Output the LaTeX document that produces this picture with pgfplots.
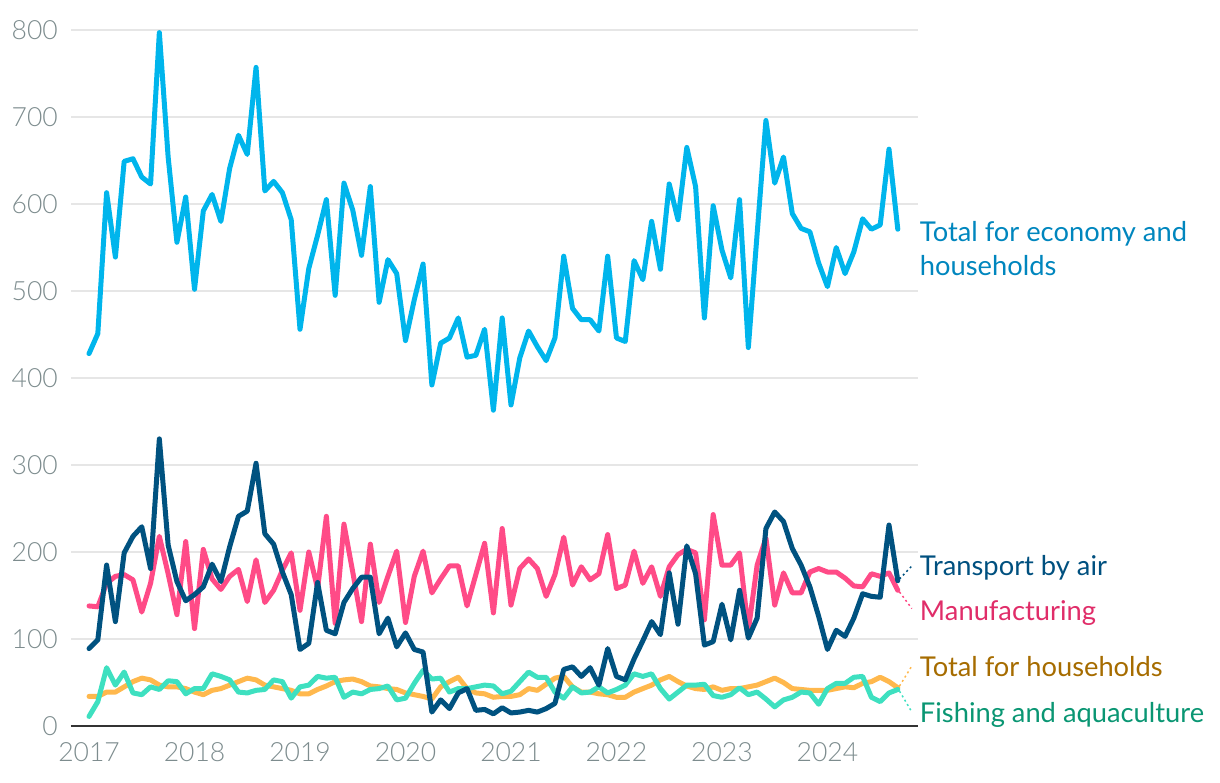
\documentclass[border=0pt]{standalone}
\usepackage{pgfplots}
\usepackage{pgfplotstable}
\pgfplotsset{compat=1.18}
\usepackage{fontspec}
\setmainfont{Lato}
\IfFontExistsTF{Lato Light}{\newfontfamily\tickfont{Lato Light}}{\newfontfamily\tickfont{Lato}}

\definecolor{econline}{RGB}{0,181,236}
\definecolor{airline}{RGB}{0,82,128}
\definecolor{manline}{RGB}{255,75,135}
\definecolor{hhline}{RGB}{255,184,77}
\definecolor{fishline}{RGB}{62,224,192}
\definecolor{econtext}{RGB}{0,134,190}
\definecolor{airtext}{RGB}{0,80,127}
\definecolor{mantext}{RGB}{224,45,105}
\definecolor{hhtext}{RGB}{166,108,0}
\definecolor{fishtext}{RGB}{10,150,115}
\definecolor{gridgray}{RGB}{230,230,230}
\definecolor{tickgray}{RGB}{125,140,142}
\definecolor{axisdark}{RGB}{51,51,51}

\pgfplotstableread{
i econ air manuf hh fish
0 428 89 138 34 11
1 451 99 137 34 28
2 613 185 164 39 67
3 539 120 172 39 47
4 649 199 174 45 62
5 652 218 168 51 38
6 631 229 131 55 36
7 623 181 164 53 45
8 797 330 218 47 42
9 654 208 175 45 52
10 556 166 128 45 51
11 608 144 212 43 37
12 502 151 112 39 43
13 592 160 203 36 43
14 611 186 169 41 60
15 580 166 157 43 57
16 641 206 172 47 53
17 679 241 180 51 39
18 657 247 143 55 38
19 757 302 191 53 41
20 615 221 142 47 42
21 626 209 156 45 53
22 613 177 179 43 51
23 582 151 199 41 32
24 456 88 133 37 45
25 526 95 200 37 47
26 564 165 158 42 57
27 605 110 241 46 55
28 495 106 118 51 56
29 624 142 232 53 33
30 593 158 177 54 39
31 541 171 120 51 37
32 620 171 209 46 42
33 487 106 142 45 43
34 536 124 172 43 46
35 520 91 201 42 30
36 443 107 119 38 32
37 490 88 172 36 49
38 531 85 201 34 64
39 392 16 153 31 54
40 440 30 169 45 55
41 446 20 184 51 39
42 469 38 184 56 43
43 424 43 138 43 43
44 426 18 174 38 45
45 456 19 210 37 47
46 363 14 130 33 46
47 469 21 227 34 37
48 369 15 139 34 40
49 423 16 181 36 51
50 454 18 192 43 62
51 436 16 181 41 56
52 420 20 149 48 56
53 446 26 174 55 39
54 540 65 217 57 32
55 480 68 162 45 45
56 467 57 183 39 38
57 467 67 168 39 39
58 454 47 175 37 45
59 540 89 220 36 38
60 446 57 158 33 42
61 442 53 162 33 47
62 535 77 201 39 60
63 513 98 164 43 57
64 580 120 183 47 60
65 525 105 149 53 43
66 623 176 183 57 31
67 582 117 197 51 39
68 665 207 203 46 47
69 620 175 199 43 47
70 469 93 122 42 48
71 598 97 243 45 35
72 547 140 185 41 33
73 515 99 185 43 36
74 605 156 199 43 44
75 435 101 110 45 36
76 566 124 185 47 39
77 696 227 216 51 31
78 624 246 139 55 22
79 654 235 176 50 30
80 589 204 153 43 33
81 572 185 153 42 39
82 568 160 177 41 38
83 532 126 181 41 25
84 505 88 177 41 43
85 550 110 177 43 49
86 520 103 170 45 49
87 545 124 161 44 56
88 583 152 160 49 57
89 571 149 175 51 33
90 576 148 172 56 28
91 663 231 176 51 38
92 571 167 156 44 42
}\datatable

\newcommand{\labfont}{\fontsize{27.3}{32}\selectfont}
\newcommand{\tkfont}{\tickfont\fontsize{26.5}{30}\selectfont}

\begin{document}
\begin{tikzpicture}
\useasboundingbox (-71pt,-56pt) rectangle (1149pt,726pt);
\begin{axis}[
  at={(0pt,0pt)}, anchor=south west,
  scale only axis, width=847pt, height=696pt,
  xmin=-2.05, xmax=94.3, ymin=0, ymax=800,
  clip=false,
  axis x line*=bottom, axis y line*=left,
  y axis line style={draw=none},
  x axis line style={line width=2pt, draw=axisdark, -},
  ytick={0,100,...,800},
  xtick={0,12,24,36,48,60,72,84},
  xticklabels={2017,2018,2019,2020,2021,2022,2023,2024},
  ymajorgrids,
  grid style={line width=2pt, draw=gridgray},
  major tick length=0pt,
  tick style={draw=none},
  /pgf/number format/assume math mode=true,
  yticklabel style={font=\tkfont, text=tickgray, anchor=east, inner sep=0pt, xshift=-13pt},
  xticklabel style={font=\tkfont, text=tickgray, anchor=north, inner sep=0pt, yshift=-16pt},
  every axis plot/.append style={line width=5pt, line join=round, line cap=round, mark=none},
]
\addplot[econline] table[x=i, y=econ] {\datatable};
\addplot[hhline] table[x=i, y=hh] {\datatable};
\addplot[fishline] table[x=i, y=fish] {\datatable};
\addplot[manline] table[x=i, y=manuf] {\datatable};
\addplot[airline] table[x=i, y=air] {\datatable};

\draw[airline, line width=1.5pt, dash pattern=on 2pt off 3pt] (axis cs:92.2,169) -- (axis cs:93.6,184);
\draw[manline, line width=1.5pt, dash pattern=on 2pt off 3pt] (axis cs:92.2,154) -- (axis cs:93.6,135);
\draw[hhline, line width=1.5pt, dash pattern=on 2pt off 3pt] (axis cs:92.2,46) -- (axis cs:93.6,69);
\draw[fishline, line width=1.5pt, dash pattern=on 2pt off 3pt] (axis cs:92.2,40) -- (axis cs:93.6,16);

\node[anchor=base west, inner sep=0pt, text=econtext, font=\labfont] at (axis cs:94.5,556.5) {Total for economy and};
\node[anchor=base west, inner sep=0pt, text=econtext, font=\labfont] at (axis cs:94.5,517.9) {households};
\node[anchor=base west, inner sep=0pt, text=airtext, font=\labfont] at (axis cs:94.5,172.5) {Transport by air};
\node[anchor=base west, inner sep=0pt, text=mantext, font=\labfont] at (axis cs:94.5,120.7) {Manufacturing};
\node[anchor=base west, inner sep=0pt, text=hhtext, font=\labfont] at (axis cs:94.5,56.4) {Total for households};
\node[anchor=base west, inner sep=0pt, text=fishtext, font=\labfont] at (axis cs:94.5,4.6) {Fishing and aquaculture};
\end{axis}
\end{tikzpicture}
\end{document}
